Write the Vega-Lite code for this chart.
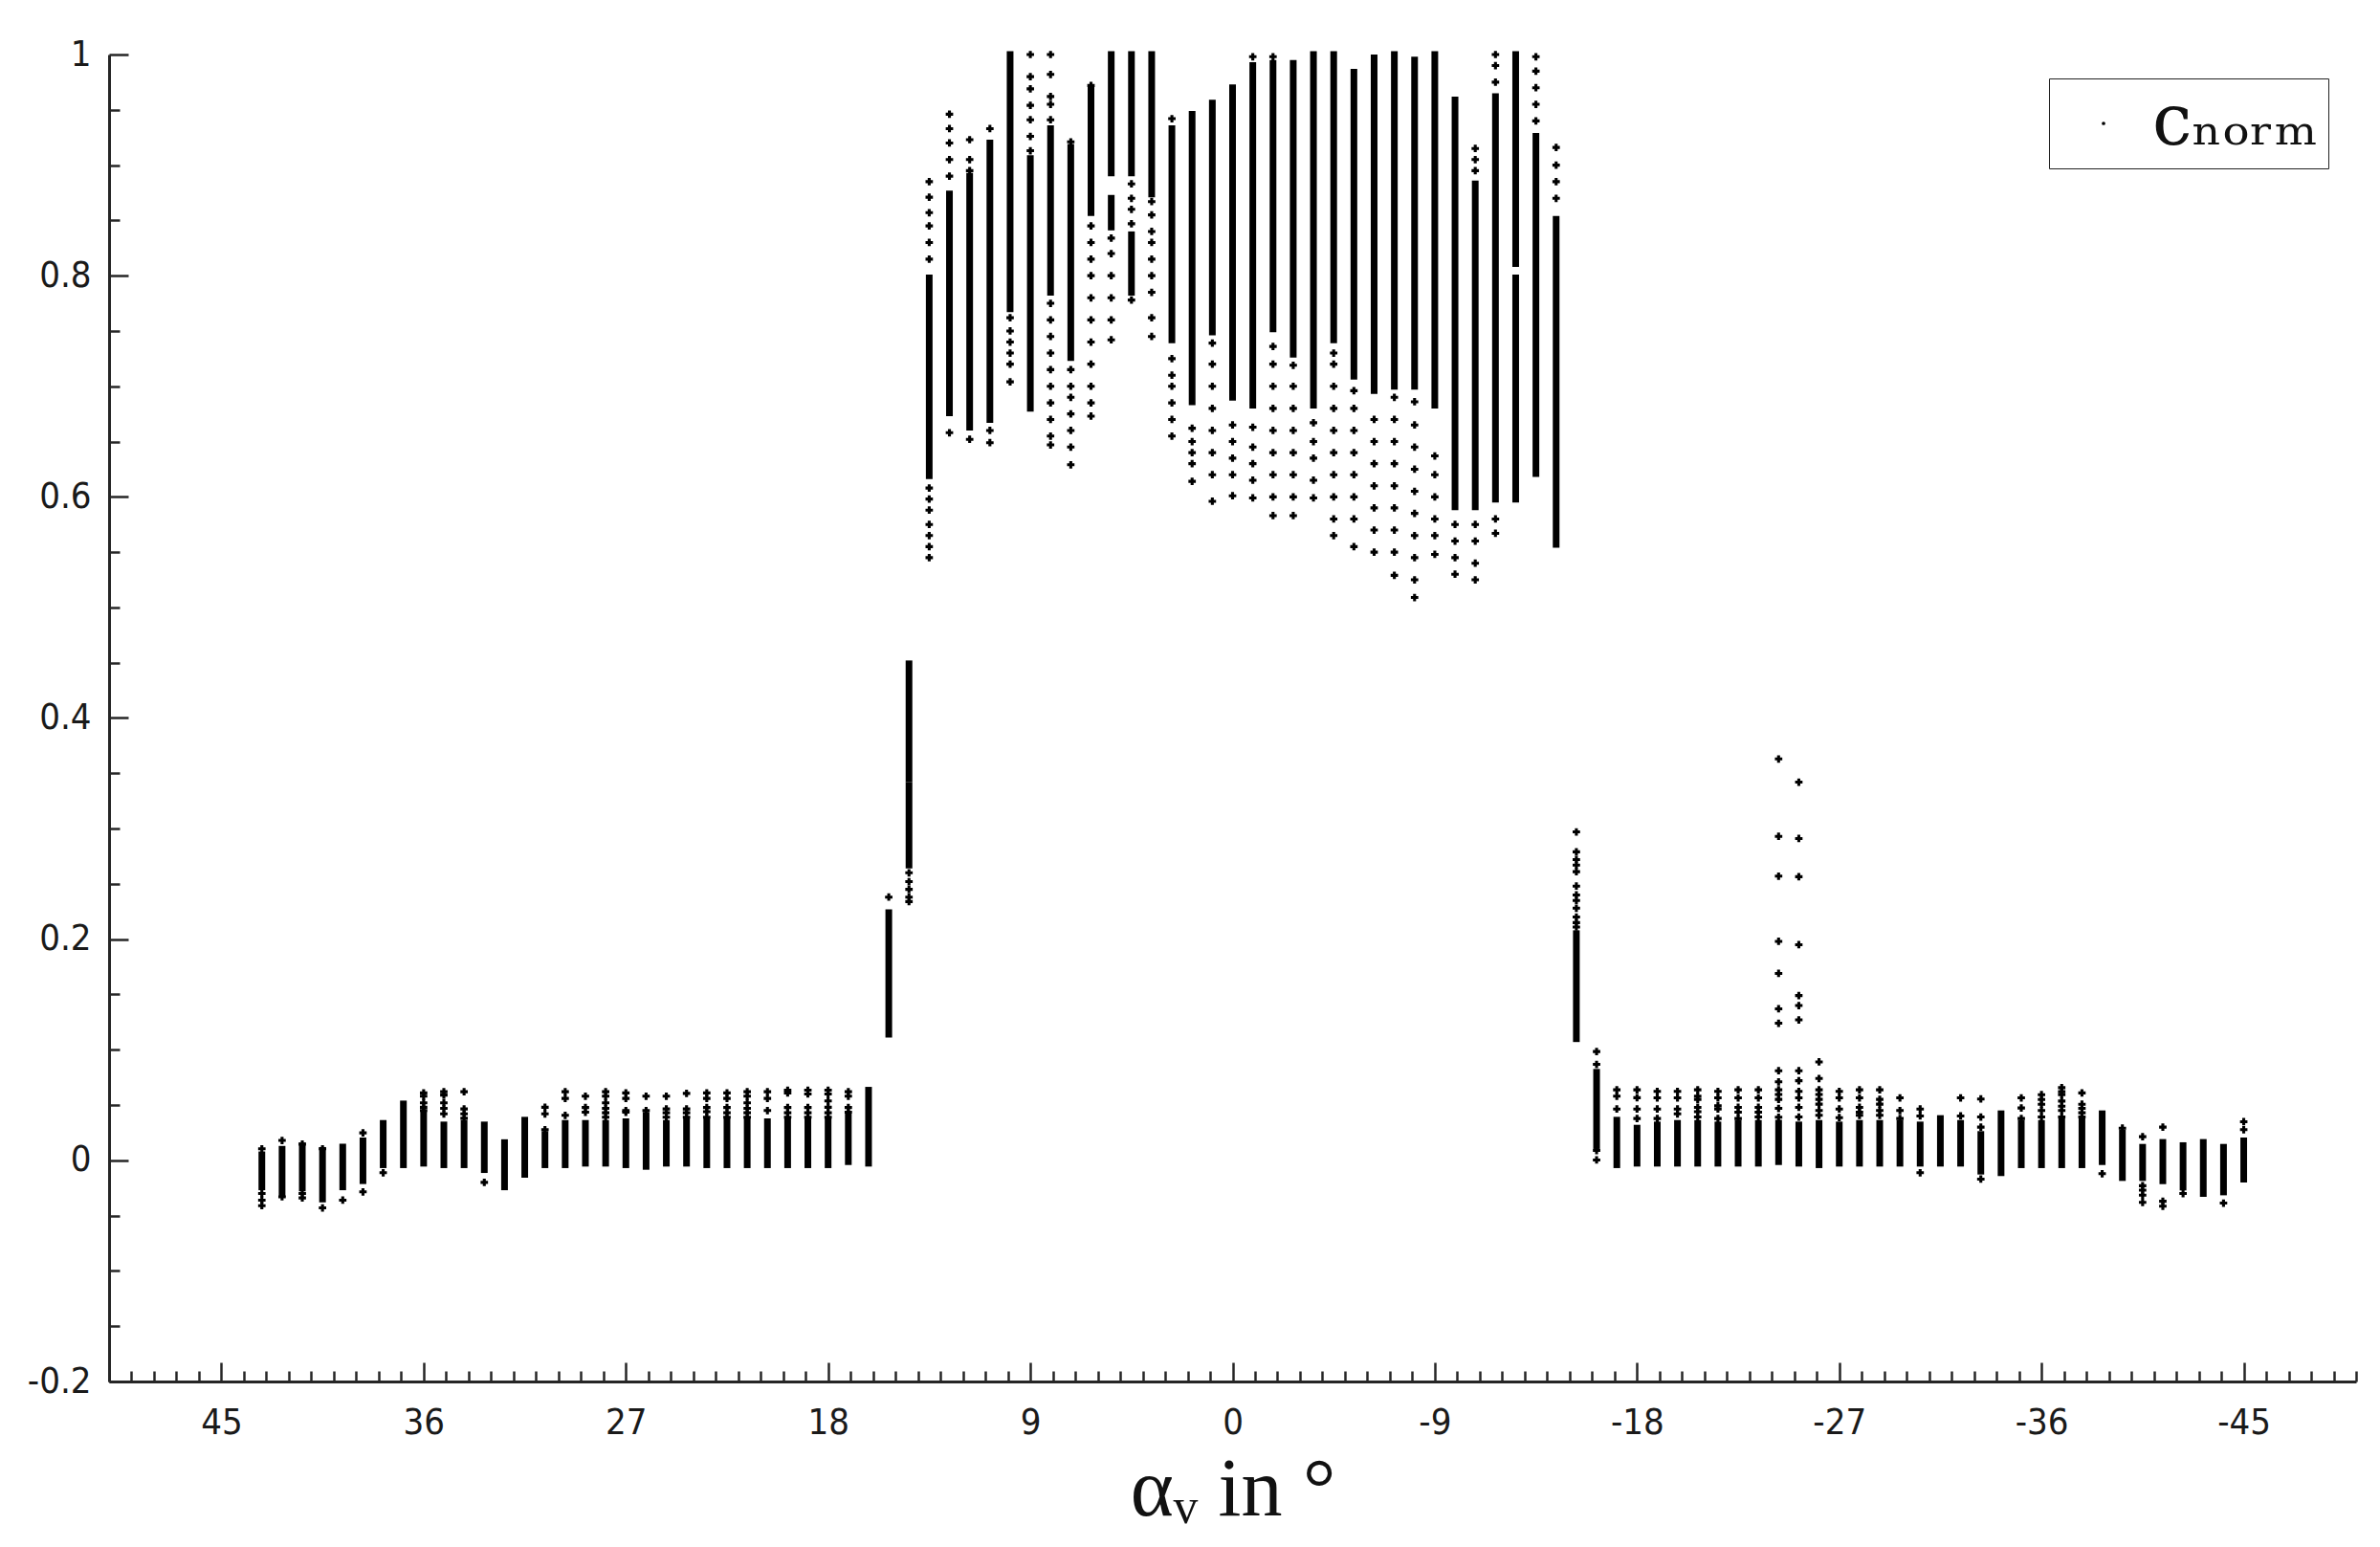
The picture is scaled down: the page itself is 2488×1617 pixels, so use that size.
{
  "$schema": "https://vega.github.io/schema/vega-lite/v6.json",
  "autosize": "none",
  "width": 2349,
  "height": 1387,
  "padding": {"left": 114, "top": 57, "right": 25, "bottom": 173},
  "background": "white",
  "config": {"view": {"stroke": null}},
  "datasets": {
    "runs": [
      {"x":13.5,"lo":0.619,"hi":0.798},{"x":12.6,"lo":0.676,"hi":0.874},{"x":11.7,"lo":0.663,"hi":0.890},{"x":10.8,"lo":0.670,"hi":0.920},
      {"x":9.9,"lo":0.770,"hi":1.0},{"x":9,"lo":0.680,"hi":0.906},{"x":8.1,"lo":0.785,"hi":0.933},{"x":7.2,"lo":0.726,"hi":0.916},
      {"x":6.3,"lo":0.857,"hi":0.969},{"x":5.4,"lo":0.893,"hi":1.0},{"x":5.4,"lo":0.844,"hi":0.870},{"x":4.5,"lo":0.893,"hi":1.0},
      {"x":4.5,"lo":0.785,"hi":0.837},{"x":3.6,"lo":0.874,"hi":1.0},{"x":2.7,"lo":0.742,"hi":0.933},{"x":1.8,"lo":0.686,"hi":0.946},
      {"x":0.9,"lo":0.749,"hi":0.956},{"x":0,"lo":0.690,"hi":0.970},{"x":-0.9,"lo":0.683,"hi":0.990},{"x":-1.8,"lo":0.752,"hi":0.992},
      {"x":-2.7,"lo":0.729,"hi":0.992},{"x":-3.6,"lo":0.683,"hi":1.0},{"x":-4.5,"lo":0.742,"hi":1.0},{"x":-5.4,"lo":0.709,"hi":0.984},
      {"x":-6.3,"lo":0.696,"hi":0.997},{"x":-7.2,"lo":0.700,"hi":1.0},{"x":-8.1,"lo":0.700,"hi":0.995},{"x":-9,"lo":0.683,"hi":1.0},
      {"x":-9.9,"lo":0.591,"hi":0.959},{"x":-10.8,"lo":0.591,"hi":0.883},{"x":-11.7,"lo":0.598,"hi":0.962},{"x":-12.6,"lo":0.811,"hi":1.0},
      {"x":-12.6,"lo":0.598,"hi":0.798},{"x":-13.5,"lo":0.621,"hi":0.926},{"x":-14.4,"lo":0.557,"hi":0.851},
      {"x":15.3,"lo":0.114,"hi":0.224},{"x":14.4,"lo":0.345,"hi":0.449},{"x":14.4,"lo":0.267,"hi":0.339},{"x":-15.3,"lo":0.110,"hi":0.205},
      {"x":43.2,"lo":-0.024,"hi":0.005},{"x":42.3,"lo":-0.030,"hi":0.010},{"x":41.4,"lo":-0.025,"hi":0.013},{"x":40.5,"lo":-0.035,"hi":0.009},
      {"x":39.6,"lo":-0.024,"hi":0.012},{"x":38.7,"lo":-0.0184,"hi":0.0176},{"x":37.8,"lo":-0.004,"hi":0.0334},{"x":36.9,"lo":-0.004,"hi":0.051},
      {"x":36,"lo":-0.0026,"hi":0.041},{"x":35.1,"lo":-0.004,"hi":0.032},{"x":34.2,"lo":-0.004,"hi":0.0334},{"x":33.3,"lo":-0.0084,"hi":0.032},
      {"x":32.4,"lo":-0.024,"hi":0.016},{"x":31.5,"lo":-0.0127,"hi":0.0363},{"x":30.6,"lo":-0.004,"hi":0.0234},{"x":29.7,"lo":-0.004,"hi":0.0334},
      {"x":28.8,"lo":-0.0026,"hi":0.0334},{"x":27.9,"lo":-0.0026,"hi":0.0334},{"x":27,"lo":-0.004,"hi":0.0349},{"x":26.1,"lo":-0.0055,"hi":0.0407},
      {"x":25.2,"lo":-0.0026,"hi":0.0334},{"x":24.3,"lo":-0.0026,"hi":0.0349},{"x":23.4,"lo":-0.004,"hi":0.0349},{"x":22.5,"lo":-0.004,"hi":0.0349},
      {"x":21.6,"lo":-0.004,"hi":0.0363},{"x":20.7,"lo":-0.004,"hi":0.0349},{"x":19.8,"lo":-0.004,"hi":0.0349},{"x":18.9,"lo":-0.004,"hi":0.0349},
      {"x":18,"lo":-0.004,"hi":0.0349},{"x":17.1,"lo":-0.0012,"hi":0.0392},{"x":16.2,"lo":-0.0026,"hi":0.0634},
      {"x":-16.2,"lo":0.0133,"hi":0.0796},{"x":-17.1,"lo":-0.004,"hi":0.0363},{"x":-18,"lo":-0.0026,"hi":0.0291},{"x":-18.9,"lo":-0.0026,"hi":0.032},
      {"x":-19.8,"lo":-0.0026,"hi":0.0334},{"x":-20.7,"lo":-0.0026,"hi":0.0334},{"x":-21.6,"lo":-0.0026,"hi":0.032},{"x":-22.5,"lo":-0.0026,"hi":0.0334},
      {"x":-23.4,"lo":-0.0026,"hi":0.0334},{"x":-24.3,"lo":-0.0012,"hi":0.0336},{"x":-25.2,"lo":-0.0026,"hi":0.032},{"x":-26.1,"lo":-0.004,"hi":0.0334},
      {"x":-27,"lo":-0.0026,"hi":0.032},{"x":-27.9,"lo":-0.0026,"hi":0.0334},{"x":-28.8,"lo":-0.0026,"hi":0.0334},{"x":-29.7,"lo":-0.0026,"hi":0.0334},
      {"x":-30.6,"lo":-0.0026,"hi":0.032},{"x":-31.5,"lo":-0.0026,"hi":0.0378},{"x":-32.4,"lo":-0.0026,"hi":0.0334},{"x":-33.3,"lo":-0.0098,"hi":0.0234},
      {"x":-34.2,"lo":-0.0112,"hi":0.0421},{"x":-35.1,"lo":-0.004,"hi":0.0334},{"x":-36,"lo":-0.004,"hi":0.0334},{"x":-36.9,"lo":-0.004,"hi":0.0349},
      {"x":-37.8,"lo":-0.004,"hi":0.0349},{"x":-38.7,"lo":-0.0012,"hi":0.0421},{"x":-39.6,"lo":-0.0156,"hi":0.0248},{"x":-40.5,"lo":-0.0156,"hi":0.0118},
      {"x":-41.4,"lo":-0.0185,"hi":0.0162},{"x":-42.3,"lo":-0.0242,"hi":0.0133},{"x":-43.2,"lo":-0.030,"hi":0.0162},{"x":-44.1,"lo":-0.0286,"hi":0.0118},
      {"x":-45,"lo":-0.017,"hi":0.0176}
    ],
    "pts": [
      {"x":13.5,"y":0.885},{"x":13.5,"y":0.871},{"x":13.5,"y":0.857},{"x":13.5,"y":0.845},{"x":13.5,"y":0.83},{"x":13.5,"y":0.815},{"x":13.5,"y":0.608},{"x":13.5,"y":0.598},{"x":13.5,"y":0.588},{"x":13.5,"y":0.575},{"x":13.5,"y":0.565},{"x":13.5,"y":0.555},{"x":13.5,"y":0.545},
      {"x":12.6,"y":0.946},{"x":12.6,"y":0.933},{"x":12.6,"y":0.92},{"x":12.6,"y":0.905},{"x":12.6,"y":0.89},{"x":12.6,"y":0.658},
      {"x":11.7,"y":0.923},{"x":11.7,"y":0.905},{"x":11.7,"y":0.895},{"x":11.7,"y":0.652},
      {"x":10.8,"y":0.933},{"x":10.8,"y":0.66},{"x":10.8,"y":0.649},
      {"x":9.9,"y":0.762},{"x":9.9,"y":0.75},{"x":9.9,"y":0.74},{"x":9.9,"y":0.73},{"x":9.9,"y":0.72},{"x":9.9,"y":0.704},
      {"x":9,"y":1.0},{"x":9,"y":0.98},{"x":9,"y":0.969},{"x":9,"y":0.954},{"x":9,"y":0.941},{"x":9,"y":0.926},{"x":9,"y":0.913},
      {"x":8.1,"y":1.0},{"x":8.1,"y":0.982},{"x":8.1,"y":0.962},{"x":8.1,"y":0.955},{"x":8.1,"y":0.941},{"x":8.1,"y":0.775},{"x":8.1,"y":0.76},{"x":8.1,"y":0.745},{"x":8.1,"y":0.73},{"x":8.1,"y":0.715},{"x":8.1,"y":0.70},{"x":8.1,"y":0.685},{"x":8.1,"y":0.67},{"x":8.1,"y":0.655},{"x":8.1,"y":0.647},
      {"x":7.2,"y":0.921},{"x":7.2,"y":0.715},{"x":7.2,"y":0.70},{"x":7.2,"y":0.69},{"x":7.2,"y":0.675},{"x":7.2,"y":0.66},{"x":7.2,"y":0.645},{"x":7.2,"y":0.629},
      {"x":6.3,"y":0.972},{"x":6.3,"y":0.845},{"x":6.3,"y":0.83},{"x":6.3,"y":0.815},{"x":6.3,"y":0.80},{"x":6.3,"y":0.78},{"x":6.3,"y":0.76},{"x":6.3,"y":0.74},{"x":6.3,"y":0.72},{"x":6.3,"y":0.70},{"x":6.3,"y":0.685},{"x":6.3,"y":0.673},
      {"x":5.4,"y":0.834},{"x":5.4,"y":0.82},{"x":5.4,"y":0.80},{"x":5.4,"y":0.78},{"x":5.4,"y":0.76},{"x":5.4,"y":0.742},
      {"x":4.5,"y":0.883},{"x":4.5,"y":0.87},{"x":4.5,"y":0.86},{"x":4.5,"y":0.847},{"x":4.5,"y":0.778},
      {"x":3.6,"y":0.867},{"x":3.6,"y":0.855},{"x":3.6,"y":0.84},{"x":3.6,"y":0.83},{"x":3.6,"y":0.815},{"x":3.6,"y":0.80},{"x":3.6,"y":0.785},{"x":3.6,"y":0.762},{"x":3.6,"y":0.745},
      {"x":2.7,"y":0.942},{"x":2.7,"y":0.725},{"x":2.7,"y":0.71},{"x":2.7,"y":0.70},{"x":2.7,"y":0.685},{"x":2.7,"y":0.67},{"x":2.7,"y":0.655},
      {"x":1.8,"y":0.662},{"x":1.8,"y":0.65},{"x":1.8,"y":0.64},{"x":1.8,"y":0.63},{"x":1.8,"y":0.614},
      {"x":0.9,"y":0.739},{"x":0.9,"y":0.72},{"x":0.9,"y":0.70},{"x":0.9,"y":0.68},{"x":0.9,"y":0.66},{"x":0.9,"y":0.64},{"x":0.9,"y":0.62},{"x":0.9,"y":0.596},
      {"x":0,"y":0.665},{"x":0,"y":0.65},{"x":0,"y":0.635},{"x":0,"y":0.62},{"x":0,"y":0.601},
      {"x":-0.9,"y":0.998},{"x":-0.9,"y":0.663},{"x":-0.9,"y":0.645},{"x":-0.9,"y":0.63},{"x":-0.9,"y":0.615},{"x":-0.9,"y":0.599},
      {"x":-1.8,"y":0.998},{"x":-1.8,"y":0.736},{"x":-1.8,"y":0.72},{"x":-1.8,"y":0.70},{"x":-1.8,"y":0.68},{"x":-1.8,"y":0.66},{"x":-1.8,"y":0.64},{"x":-1.8,"y":0.62},{"x":-1.8,"y":0.60},{"x":-1.8,"y":0.583},
      {"x":-2.7,"y":0.719},{"x":-2.7,"y":0.70},{"x":-2.7,"y":0.68},{"x":-2.7,"y":0.66},{"x":-2.7,"y":0.64},{"x":-2.7,"y":0.62},{"x":-2.7,"y":0.60},{"x":-2.7,"y":0.583},
      {"x":-3.6,"y":0.667},{"x":-3.6,"y":0.65},{"x":-3.6,"y":0.635},{"x":-3.6,"y":0.615},{"x":-3.6,"y":0.599},
      {"x":-4.5,"y":0.73},{"x":-4.5,"y":0.72},{"x":-4.5,"y":0.70},{"x":-4.5,"y":0.68},{"x":-4.5,"y":0.66},{"x":-4.5,"y":0.64},{"x":-4.5,"y":0.62},{"x":-4.5,"y":0.60},{"x":-4.5,"y":0.58},{"x":-4.5,"y":0.565},
      {"x":-5.4,"y":0.696},{"x":-5.4,"y":0.68},{"x":-5.4,"y":0.66},{"x":-5.4,"y":0.64},{"x":-5.4,"y":0.62},{"x":-5.4,"y":0.60},{"x":-5.4,"y":0.58},{"x":-5.4,"y":0.555},
      {"x":-6.3,"y":0.670},{"x":-6.3,"y":0.65},{"x":-6.3,"y":0.63},{"x":-6.3,"y":0.61},{"x":-6.3,"y":0.59},{"x":-6.3,"y":0.57},{"x":-6.3,"y":0.55},
      {"x":-7.2,"y":0.690},{"x":-7.2,"y":0.67},{"x":-7.2,"y":0.65},{"x":-7.2,"y":0.63},{"x":-7.2,"y":0.61},{"x":-7.2,"y":0.59},{"x":-7.2,"y":0.57},{"x":-7.2,"y":0.55},{"x":-7.2,"y":0.529},
      {"x":-8.1,"y":0.686},{"x":-8.1,"y":0.665},{"x":-8.1,"y":0.645},{"x":-8.1,"y":0.625},{"x":-8.1,"y":0.605},{"x":-8.1,"y":0.585},{"x":-8.1,"y":0.565},{"x":-8.1,"y":0.545},{"x":-8.1,"y":0.525},{"x":-8.1,"y":0.509},
      {"x":-9,"y":0.637},{"x":-9,"y":0.62},{"x":-9,"y":0.60},{"x":-9,"y":0.58},{"x":-9,"y":0.565},{"x":-9,"y":0.548},
      {"x":-9.9,"y":0.575},{"x":-9.9,"y":0.56},{"x":-9.9,"y":0.545},{"x":-9.9,"y":0.53},
      {"x":-10.8,"y":0.915},{"x":-10.8,"y":0.905},{"x":-10.8,"y":0.895},{"x":-10.8,"y":0.575},{"x":-10.8,"y":0.56},{"x":-10.8,"y":0.54},{"x":-10.8,"y":0.525},
      {"x":-11.7,"y":1.0},{"x":-11.7,"y":0.99},{"x":-11.7,"y":0.975},{"x":-11.7,"y":0.58},{"x":-11.7,"y":0.567},
      {"x":-13.5,"y":0.998},{"x":-13.5,"y":0.985},{"x":-13.5,"y":0.97},{"x":-13.5,"y":0.955},{"x":-13.5,"y":0.94},
      {"x":-14.4,"y":0.916},{"x":-14.4,"y":0.90},{"x":-14.4,"y":0.885},{"x":-14.4,"y":0.87},
      {"x":15.3,"y":0.238},
      {"x":14.4,"y":0.26},{"x":14.4,"y":0.252},{"x":14.4,"y":0.245},{"x":14.4,"y":0.238},{"x":14.4,"y":0.234},
      {"x":-15.3,"y":0.297},{"x":-15.3,"y":0.279},{"x":-15.3,"y":0.272},{"x":-15.3,"y":0.267},{"x":-15.3,"y":0.261},{"x":-15.3,"y":0.248},{"x":-15.3,"y":0.240},{"x":-15.3,"y":0.235},{"x":-15.3,"y":0.228},{"x":-15.3,"y":0.22},{"x":-15.3,"y":0.215},{"x":-15.3,"y":0.211},
      {"x":43.2,"y":0.0104},{"x":43.2,"y":-0.030},{"x":43.2,"y":-0.036},{"x":43.2,"y":-0.041},
      {"x":42.3,"y":0.018},{"x":42.3,"y":-0.033},
      {"x":41.4,"y":0.0147},{"x":41.4,"y":-0.03},{"x":41.4,"y":-0.034},
      {"x":40.5,"y":0.0104},{"x":40.5,"y":-0.043},
      {"x":39.6,"y":-0.036},
      {"x":38.7,"y":0.0248},{"x":38.7,"y":-0.0285},
      {"x":37.8,"y":-0.0112},
      {"x":36,"y":0.061},{"x":36,"y":0.058},{"x":36,"y":0.052},{"x":36,"y":0.048},{"x":36,"y":0.045},
      {"x":35.1,"y":0.062},{"x":35.1,"y":0.059},{"x":35.1,"y":0.052},{"x":35.1,"y":0.047},{"x":35.1,"y":0.042},
      {"x":34.2,"y":0.062},{"x":34.2,"y":0.0465},{"x":34.2,"y":0.042},{"x":34.2,"y":0.038},
      {"x":33.3,"y":-0.0199},
      {"x":30.6,"y":0.048},{"x":30.6,"y":0.042},{"x":30.6,"y":0.0277},
      {"x":29.7,"y":0.062},{"x":29.7,"y":0.056},{"x":29.7,"y":0.0407},
      {"x":28.8,"y":0.058},{"x":28.8,"y":0.0478},{"x":28.8,"y":0.0435},
      {"x":27.9,"y":0.062},{"x":27.9,"y":0.058},{"x":27.9,"y":0.052},{"x":27.9,"y":0.047},{"x":27.9,"y":0.043},{"x":27.9,"y":0.039},
      {"x":27,"y":0.061},{"x":27,"y":0.056},{"x":27,"y":0.045},{"x":27,"y":0.0435},
      {"x":26.1,"y":0.058},{"x":26.1,"y":0.045},
      {"x":25.2,"y":0.058},{"x":25.2,"y":0.0465},{"x":25.2,"y":0.043},{"x":25.2,"y":0.039},
      {"x":24.3,"y":0.0605},{"x":24.3,"y":0.0465},{"x":24.3,"y":0.043},{"x":24.3,"y":0.039},
      {"x":23.4,"y":0.061},{"x":23.4,"y":0.056},{"x":23.4,"y":0.0478},{"x":23.4,"y":0.044},{"x":23.4,"y":0.039},
      {"x":22.5,"y":0.061},{"x":22.5,"y":0.056},{"x":22.5,"y":0.0478},{"x":22.5,"y":0.043},{"x":22.5,"y":0.039},
      {"x":21.6,"y":0.062},{"x":21.6,"y":0.058},{"x":21.6,"y":0.052},{"x":21.6,"y":0.047},{"x":21.6,"y":0.043},{"x":21.6,"y":0.039},
      {"x":20.7,"y":0.062},{"x":20.7,"y":0.056},{"x":20.7,"y":0.045},
      {"x":19.8,"y":0.0634},{"x":19.8,"y":0.061},{"x":19.8,"y":0.0478},{"x":19.8,"y":0.043},{"x":19.8,"y":0.039},
      {"x":18.9,"y":0.0634},{"x":18.9,"y":0.060},{"x":18.9,"y":0.0478},{"x":18.9,"y":0.043},{"x":18.9,"y":0.039},
      {"x":18,"y":0.0634},{"x":18,"y":0.060},{"x":18,"y":0.0537},{"x":18,"y":0.048},{"x":18,"y":0.043},{"x":18,"y":0.039},
      {"x":17.1,"y":0.062},{"x":17.1,"y":0.058},{"x":17.1,"y":0.0478},{"x":17.1,"y":0.0435},
      {"x":-16.2,"y":0.0984},{"x":-16.2,"y":0.0868},{"x":-16.2,"y":0.0089},{"x":-16.2,"y":0.0003},
      {"x":-17.1,"y":0.0638},{"x":-17.1,"y":0.058},{"x":-17.1,"y":0.0464},
      {"x":-18,"y":0.0638},{"x":-18,"y":0.0566},{"x":-18,"y":0.0464},{"x":-18,"y":0.0378},
      {"x":-18.9,"y":0.0623},{"x":-18.9,"y":0.0565},{"x":-18.9,"y":0.0464},{"x":-18.9,"y":0.0378},
      {"x":-19.8,"y":0.0623},{"x":-19.8,"y":0.0565},{"x":-19.8,"y":0.0464},{"x":-19.8,"y":0.042},
      {"x":-20.7,"y":0.0638},{"x":-20.7,"y":0.058},{"x":-20.7,"y":0.0551},{"x":-20.7,"y":0.0479},{"x":-20.7,"y":0.044},{"x":-20.7,"y":0.0392},
      {"x":-21.6,"y":0.0623},{"x":-21.6,"y":0.0565},{"x":-21.6,"y":0.0493},{"x":-21.6,"y":0.0464},{"x":-21.6,"y":0.0378},
      {"x":-22.5,"y":0.0638},{"x":-22.5,"y":0.0565},{"x":-22.5,"y":0.0479},{"x":-22.5,"y":0.0435},{"x":-22.5,"y":0.0378},
      {"x":-23.4,"y":0.0638},{"x":-23.4,"y":0.0565},{"x":-23.4,"y":0.0479},{"x":-23.4,"y":0.0435},{"x":-23.4,"y":0.0392},
      {"x":-24.3,"y":0.363},{"x":-24.3,"y":0.293},{"x":-24.3,"y":0.257},{"x":-24.3,"y":0.198},{"x":-24.3,"y":0.169},{"x":-24.3,"y":0.137},{"x":-24.3,"y":0.124},{"x":-24.3,"y":0.081},{"x":-24.3,"y":0.071},{"x":-24.3,"y":0.0638},{"x":-24.3,"y":0.0595},{"x":-24.3,"y":0.0551},{"x":-24.3,"y":0.047},{"x":-24.3,"y":0.039},
      {"x":-25.2,"y":0.342},{"x":-25.2,"y":0.291},{"x":-25.2,"y":0.2565},{"x":-25.2,"y":0.195},{"x":-25.2,"y":0.149},{"x":-25.2,"y":0.14},{"x":-25.2,"y":0.127},{"x":-25.2,"y":0.081},{"x":-25.2,"y":0.072},{"x":-25.2,"y":0.0623},{"x":-25.2,"y":0.0565},{"x":-25.2,"y":0.0479},{"x":-25.2,"y":0.0392},
      {"x":-26.1,"y":0.089},{"x":-26.1,"y":0.074},{"x":-26.1,"y":0.0638},{"x":-26.1,"y":0.0595},{"x":-26.1,"y":0.0551},{"x":-26.1,"y":0.0508},{"x":-26.1,"y":0.045},{"x":-26.1,"y":0.0407},
      {"x":-27,"y":0.0623},{"x":-27,"y":0.0565},{"x":-27,"y":0.0464},{"x":-27,"y":0.0386},
      {"x":-27.9,"y":0.0638},{"x":-27.9,"y":0.0565},{"x":-27.9,"y":0.0479},{"x":-27.9,"y":0.0435},{"x":-27.9,"y":0.0407},
      {"x":-28.8,"y":0.0638},{"x":-28.8,"y":0.0551},{"x":-28.8,"y":0.0508},{"x":-28.8,"y":0.045},{"x":-28.8,"y":0.0407},
      {"x":-29.7,"y":0.0565},{"x":-29.7,"y":0.045},{"x":-29.7,"y":0.0378},
      {"x":-30.6,"y":0.0464},{"x":-30.6,"y":0.0401},{"x":-30.6,"y":-0.0112},
      {"x":-32.4,"y":0.0565},{"x":-32.4,"y":0.0401},
      {"x":-33.3,"y":0.0555},{"x":-33.3,"y":0.0392},{"x":-33.3,"y":0.030},{"x":-33.3,"y":-0.017},
      {"x":-35.1,"y":0.0565},{"x":-35.1,"y":0.0473},{"x":-35.1,"y":0.0378},
      {"x":-36,"y":0.0594},{"x":-36,"y":0.055},{"x":-36,"y":0.0507},{"x":-36,"y":0.045},{"x":-36,"y":0.0392},
      {"x":-36.9,"y":0.0657},{"x":-36.9,"y":0.062},{"x":-36.9,"y":0.0594},{"x":-36.9,"y":0.0536},{"x":-36.9,"y":0.049},{"x":-36.9,"y":0.045},{"x":-36.9,"y":0.0392},
      {"x":-37.8,"y":0.061},{"x":-37.8,"y":0.0507},{"x":-37.8,"y":0.047},{"x":-37.8,"y":0.043},{"x":-37.8,"y":0.0392},
      {"x":-38.7,"y":-0.0121},
      {"x":-39.6,"y":0.0291},
      {"x":-40.5,"y":0.0214},{"x":-40.5,"y":-0.023},{"x":-40.5,"y":-0.027},{"x":-40.5,"y":-0.0315},{"x":-40.5,"y":-0.038},
      {"x":-41.4,"y":0.030},{"x":-41.4,"y":-0.037},{"x":-41.4,"y":-0.0415},
      {"x":-42.3,"y":-0.030},
      {"x":-44.1,"y":-0.0387},
      {"x":-45,"y":0.0349},{"x":-45,"y":0.0277}
    ]
  },
  "layer": [
    {
      "data": {"name": "runs"},
      "mark": {"type": "rule", "color": "black", "strokeWidth": 7, "strokeCap": "square"},
      "encoding": {
        "x": {
          "field": "x", "type": "quantitative",
          "scale": {"domain": [-50, 50], "reverse": true, "nice": false, "zero": false},
          "axis": {
            "orient": "bottom",
            "values": [45, 36, 27, 18, 9, 0, -9, -18, -27, -36, -45],
            "labelExpr": "replace(format(datum.value, '~g'), '\u2212', '-')",
            "grid": false,
            "domainColor": "#262626", "domainWidth": 3,
            "tickColor": "#262626", "tickWidth": 2.5, "tickSize": -20,
            "labelFont": "Liberation Sans Narrow, DejaVu Sans Condensed, Liberation Sans, sans-serif",
            "labelFontSize": 38, "labelColor": "#1a1a1a", "labelPadding": 44,
            "title": "αᵥ in °",
            "titleFont": "Liberation Serif, DejaVu Serif, serif",
            "titleFontSize": 86, "titleFontWeight": "normal", "titleColor": "#111",
            "titlePadding": 9
          }
        },
        "y": {
          "field": "lo", "type": "quantitative",
          "scale": {"domain": [-0.2, 1], "nice": false, "zero": false},
          "axis": {
            "orient": "left",
            "values": [-0.2, 0, 0.2, 0.4, 0.6, 0.8, 1],
            "labelExpr": "replace(format(datum.value, '~g'), '\u2212', '-')",
            "grid": false,
            "domainColor": "#262626", "domainWidth": 3,
            "tickColor": "#262626", "tickWidth": 2.5, "tickSize": -20,
            "labelFont": "Liberation Sans Narrow, DejaVu Sans Condensed, Liberation Sans, sans-serif",
            "labelFontSize": 38, "labelColor": "#1a1a1a", "labelPadding": 39,
            "title": null
          }
        },
        "y2": {"field": "hi"}
      }
    },
    {
      "data": {"name": "pts"},
      "mark": {"type": "point", "shape": "cross", "filled": true, "size": 60, "opacity": 1},
      "encoding": {
        "x": {
          "field": "x", "type": "quantitative",
          "axis": {
            "orient": "bottom",
            "values": [50,49,48,47,46,44,43,42,41,40,39,38,37,35,34,33,32,31,30,29,28,26,25,24,23,22,21,20,19,17,16,15,14,13,12,11,10,8,7,6,5,4,3,2,1,-1,-2,-3,-4,-5,-6,-7,-8,-10,-11,-12,-13,-14,-15,-16,-17,-19,-20,-21,-22,-23,-24,-25,-26,-28,-29,-30,-31,-32,-33,-34,-35,-37,-38,-39,-40,-41,-42,-43,-44,-46,-47,-48,-49,-50],
            "labels": false, "domain": false, "grid": false, "title": null,
            "tickColor": "#262626", "tickWidth": 2.5, "tickSize": -11
          }
        },
        "y": {
          "field": "y", "type": "quantitative",
          "axis": {
            "orient": "left",
            "values": [-0.15, -0.1, -0.05, 0.05, 0.1, 0.15, 0.25, 0.3, 0.35, 0.45, 0.5, 0.55, 0.65, 0.7, 0.75, 0.85, 0.9, 0.95],
            "labels": false, "domain": false, "grid": false, "title": null,
            "tickColor": "#262626", "tickWidth": 2.5, "tickSize": -11
          }
        },
        "color": {
          "datum": "cₙₒᵣₘ",
          "scale": {"range": ["black"]},
          "legend": {
            "orient": "none", "legendX": 2028, "legendY": 25,
            "title": null,
            "strokeColor": "#222", "fillColor": "white",
            "padding": 10,
            "symbolType": "circle", "symbolSize": 14, "symbolFillColor": "black", "symbolStrokeWidth": 0,
            "symbolOffset": 10,
            "labelFont": "DejaVu Serif, serif",
            "labelFontSize": 74, "labelLimit": 500, "labelColor": "#111", "labelOffset": 14
          }
        }
      }
    }
  ],
  "resolve": {"axis": {"x": "independent", "y": "independent"}}
}
